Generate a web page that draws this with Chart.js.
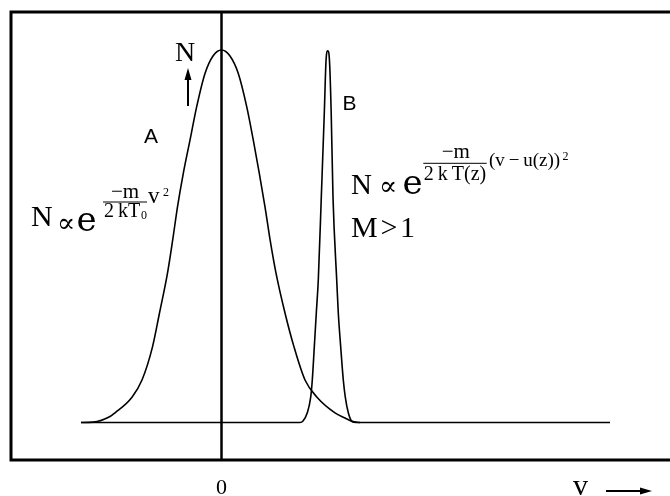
<!DOCTYPE html>
<html>
<head>
<meta charset="utf-8">
<script src="https://cdn.jsdelivr.net/npm/chart.js@4"></script>
<style>
  html, body { margin: 0; padding: 0; background: #fff; }
  canvas { display: block; }
</style>
</head>
<body>
<canvas id="chart" width="670" height="496"></canvas>
<script>
// velocity (v) and relative number (N, peak = 100)
const vA = [-14.05, -12.85, -11.15, -10.65, -8.95, -7.95, -6.9, -6.2, -5.4, -4.88, -4.4, -3.82, -3.15, -2.48, -1.65, -0.85, 0,
            0.85, 1.68, 2.52, 3.18, 3.78, 4.35, 4.86, 5.45, 6.35, 7.25, 8.35, 9.55, 11.35, 12.35, 13.05, 13.85];
const nA = [0, 0.1, 1.6, 2.6, 6.8, 11.4, 20.3, 29.4, 40.1, 49.0, 57.9, 66.9, 75.8, 84.8, 93.7, 98.4, 100,
            98.4, 93.7, 84.8, 75.8, 66.9, 57.9, 49.0, 40.1, 29.4, 20.3, 11.4, 6.8, 2.6, 1.2, 0.3, 0];

const vB = [-14.05, 7.85, 8.15, 8.58, 8.92, 9.08, 9.28, 9.48, 9.68, 9.98, 10.28, 10.45, 10.62,
            10.8, 10.97, 11.15, 11.52, 11.68, 11.92, 12.18, 12.38, 12.68, 13.05, 13.45, 38.85];
const nB = [0, 0, 0.4, 2.6, 6.8, 11.4, 20.3, 29.4, 38.3, 60.5, 83.1, 97.0, 99.8,
            97.0, 83.1, 60.5, 38.3, 29.4, 20.3, 11.4, 6.8, 2.6, 0.3, 0, 0];

const xTicks = [0];
const vRange = [-21.05, 44.85];
const nRange = [-10.07, 110.2];

const SERIF = '"Liberation Serif", "DejaVu Serif", serif';
const MATH = '"DejaVu Serif", serif';
const SANS = '"Liberation Sans", Arial, sans-serif';

function points(xs, ys) {
  return xs.map((v, i) => ({ x: v, y: ys[i] }));
}

// frame, v = 0 line and the hand-set labels / formulas
const sketch = {
  id: 'sketch',
  beforeDatasetsDraw(chart) {
    const { ctx, chartArea: a, scales: { x } } = chart;
    ctx.save();
    ctx.strokeStyle = '#000';
    ctx.lineWidth = 2.5;
    ctx.beginPath();
    ctx.moveTo(x.getPixelForValue(0), a.top);
    ctx.lineTo(x.getPixelForValue(0), a.bottom);
    ctx.stroke();
    ctx.restore();
  },
  afterDraw(chart) {
    const { ctx, chartArea: a, scales: { x, y } } = chart;
    const X = v => x.getPixelForValue(v);
    const Y = n => y.getPixelForValue(n);

    ctx.save();
    ctx.strokeStyle = '#000';
    ctx.fillStyle = '#000';

    // box round the plot (open on the right)
    ctx.lineWidth = 3;
    ctx.beginPath();
    ctx.moveTo(chart.width, a.top);
    ctx.lineTo(a.left, a.top);
    ctx.lineTo(a.left, a.bottom);
    ctx.lineTo(chart.width, a.bottom);
    ctx.stroke();

    function text(str, v, n, size, family, align) {
      ctx.font = size + 'px ' + family;
      ctx.textAlign = align || 'left';
      ctx.textBaseline = 'alphabetic';
      ctx.fillText(str, X(v), Y(n));
    }
    function bar(v0, v1, n) {
      ctx.lineWidth = 1;
      ctx.beginPath();
      ctx.moveTo(X(v0), Y(n));
      ctx.lineTo(X(v1), Y(n));
      ctx.stroke();
    }
    function arrow(x0, y0, x1, y1) {
      const ang = Math.atan2(y1 - y0, x1 - x0);
      const len = 12, half = 3.5;
      ctx.lineWidth = 2;
      ctx.beginPath();
      ctx.moveTo(x0, y0);
      ctx.lineTo(x1 - Math.cos(ang) * len * 0.8, y1 - Math.sin(ang) * len * 0.8);
      ctx.stroke();
      ctx.beginPath();
      ctx.moveTo(x1, y1);
      ctx.lineTo(x1 - Math.cos(ang) * len - Math.sin(ang) * half, y1 - Math.sin(ang) * len + Math.cos(ang) * half);
      ctx.lineTo(x1 - Math.cos(ang) * len + Math.sin(ang) * half, y1 - Math.sin(ang) * len - Math.cos(ang) * half);
      ctx.closePath();
      ctx.fill();
    }

    // N axis hint
    text('N', -4.65, 97.05, 28, SERIF);
    arrow(X(-3.35), Y(84.97), X(-3.35), Y(95.17));

    // curve names
    text('A', -7.75, 75.03, 21, SANS);
    text('B', 12.1, 83.89, 21, SANS);

    // formula for A
    text('N', -19.05, 52.75, 30, SERIF);
    text('\u221D', -16.45, 51.2, 27, MATH);
    text('e', -14.5, 51.54, 34, MATH);
    text('\u2212m', -9.65, 60.27, 21, SERIF, 'center');
    bar(-11.85, -7.45, 59.19);
    text('2\u2009kT', -11.75, 55.15, 20, SERIF);
    text('0', -8.05, 54.6, 12, SERIF);
    text('v', -7.35, 58.93, 23, SERIF);
    text('2', -5.85, 60.8, 12, SERIF);

    // formula for B
    text('N', 12.95, 61.34, 29, SERIF);
    text('\u221D', 15.75, 61.1, 27, MATH);
    text('e', 18.1, 61.34, 34, MATH);
    text('\u2212m', 23.43, 70.93, 21, SERIF, 'center');
    bar(20.18, 26.52, 69.58);
    text('2\u2009k\u2009T(z)', 23.35, 65.1, 20, SERIF, 'center');
    text('(v\u2009\u2212\u2009u(z))', 26.75, 68.86, 19, SERIF);
    text('2', 34.1, 70.47, 12, SERIF);

    text('M', 12.95, 49.8, 30, SERIF);
    text('>', 15.9, 49.8, 30, SERIF);
    text('1', 17.85, 49.8, 30, SERIF);

    // v axis hint
    text('v', 35.15, -19.46, 30, SERIF);
    arrow(X(38.45), Y(-18.39), X(43.05), Y(-18.39));

    ctx.restore();
  }
};

new Chart(document.getElementById('chart'), {
  type: 'line',
  data: {
    datasets: [
      {
        label: 'A',
        data: points(vA, nA),
        borderColor: '#000',
        borderWidth: 1.6,
        pointRadius: 0,
        fill: false,
        cubicInterpolationMode: 'monotone'
      },
      {
        label: 'B',
        data: points(vB, nB),
        borderColor: '#000',
        borderWidth: 1.6,
        pointRadius: 0,
        fill: false,
        cubicInterpolationMode: 'monotone'
      }
    ]
  },
  options: {
    responsive: false,
    devicePixelRatio: 1,
    animation: false,
    layout: { padding: { left: 11, top: 12, right: 0, bottom: 0 } },
    plugins: {
      legend: { display: false },
      tooltip: { enabled: false }
    },
    scales: {
      x: {
        type: 'linear',
        min: vRange[0],
        max: vRange[1],
        afterBuildTicks: s => { s.ticks = xTicks.map(v => ({ value: v })); },
        afterFit: s => { s.height = 36; },
        grid: { display: false, drawTicks: false },
        border: { display: false },
        ticks: {
          color: '#000',
          padding: 15,
          font: { family: SERIF, size: 22 }
        }
      },
      y: {
        type: 'linear',
        display: false,
        min: nRange[0],
        max: nRange[1]
      }
    }
  },
  plugins: [sketch]
});
</script>
</body>
</html>
